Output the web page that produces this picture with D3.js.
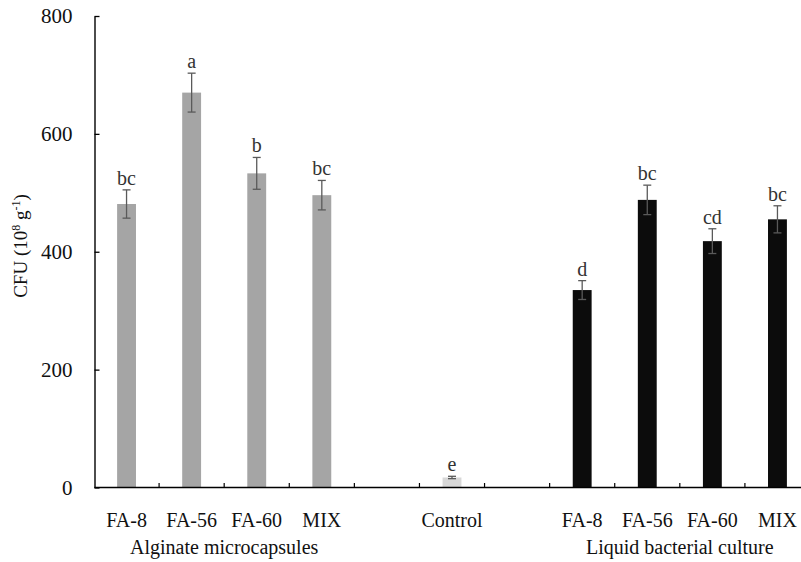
<!DOCTYPE html>
<html>
<head>
<meta charset="utf-8">
<script src="https://cdn.jsdelivr.net/npm/d3@7/dist/d3.min.js"></script>
<style>
  html, body { margin: 0; padding: 0; background: #fff; }
  svg { display: block; }
  text { font-family: "Liberation Serif", "Times New Roman", serif; fill: #111; }
</style>
</head>
<body>
<svg id="chart" width="801" height="562"></svg>
<script>
// ---- data ----
const slots = ["A1", "A2", "A3", "A4", "gap1", "C", "gap2", "L1", "L2", "L3", "L4"];
const slotLabels = ["FA-8", "FA-56", "FA-60", "MIX", "", "Control", "", "FA-8", "FA-56", "FA-60", "MIX"];

const alginateSlots = ["A1", "A2", "A3", "A4"];
const alginateValues = [481, 670, 533, 496];
const alginateErrors = [24, 33, 27, 25];
const alginateLetters = ["bc", "a", "b", "bc"];

const controlSlots = ["C"];
const controlValues = [17];
const controlErrors = [2];
const controlLetters = ["e"];

const liquidSlots = ["L1", "L2", "L3", "L4"];
const liquidValues = [335, 488, 418, 455];
const liquidErrors = [16, 25, 21, 23];
const liquidLetters = ["d", "bc", "cd", "bc"];

const groupNames = ["Alginate microcapsules", "Liquid bacterial culture"];
const groupMembers = [alginateSlots, liquidSlots];

const yTicks = [0, 200, 400, 600, 800];

// ---- layout ----
const svg = d3.select("#chart");
const x = d3.scaleBand().domain(slots).range([94, 810]).paddingInner(0.71).paddingOuter(0.355);
const y = d3.scaleLinear().domain([0, 800]).range([487.5, 16]);

const series = [
  { slots: alginateSlots, values: alginateValues, errors: alginateErrors, letters: alginateLetters, color: "#a5a5a5" },
  { slots: controlSlots, values: controlValues, errors: controlErrors, letters: controlLetters, color: "#d8d8d8" },
  { slots: liquidSlots, values: liquidValues, errors: liquidErrors, letters: liquidLetters, color: "#0c0c0c" }
];

const rows = [];
series.forEach(s => s.slots.forEach((k, i) => rows.push({ k, v: s.values[i], e: s.errors[i], l: s.letters[i], c: s.color })));

// bars
svg.append("g").selectAll("rect").data(rows).join("rect")
  .attr("x", d => x(d.k))
  .attr("width", x.bandwidth())
  .attr("y", d => y(d.v))
  .attr("height", d => y(0) - y(d.v))
  .attr("fill", d => d.c);

// error bars
const eg = svg.append("g").attr("stroke", "#5a5a5a").attr("stroke-width", 1.3).attr("fill", "none");
rows.forEach(d => {
  const cx = x(d.k) + x.bandwidth() / 2;
  eg.append("line").attr("x1", cx).attr("x2", cx).attr("y1", y(d.v + d.e)).attr("y2", y(d.v - d.e));
  eg.append("line").attr("x1", cx - 4).attr("x2", cx + 4).attr("y1", y(d.v + d.e)).attr("y2", y(d.v + d.e));
  eg.append("line").attr("x1", cx - 4).attr("x2", cx + 4).attr("y1", y(d.v - d.e)).attr("y2", y(d.v - d.e));
});

// significance letters
svg.append("g").selectAll("text").data(rows).join("text")
  .attr("x", d => x(d.k) + x.bandwidth() / 2)
  .attr("y", d => y(d.v + d.e) - 5)
  .attr("text-anchor", "middle")
  .attr("font-size", 20)
  .style("fill", "#333")
  .text(d => d.l);

// y axis
const yAxis = d3.axisLeft(y).tickValues(yTicks).tickSizeInner(-5).tickSizeOuter(0).tickPadding(22);
const gy = svg.append("g").attr("transform", "translate(94.5,0)").call(yAxis)
  .attr("font-family", "Liberation Serif, Times New Roman, serif");
gy.select(".domain").attr("stroke", "#000").attr("stroke-width", 1.4);
gy.selectAll(".tick line").attr("stroke", "#000").attr("stroke-width", 1.3);
gy.selectAll(".tick text").attr("font-size", 21).attr("fill", "#111");

// x axis
const boundaries = slots.slice(0, -1).map(k => x(k) + x.bandwidth() + (x.step() - x.bandwidth()) / 2);
const gx = svg.append("g");
gx.append("line").attr("x1", 94.5).attr("x2", 810).attr("y1", y(0)).attr("y2", y(0)).attr("stroke", "#000").attr("stroke-width", 1.4);
gx.selectAll("line.tk").data(boundaries).join("line").attr("class", "tk")
  .attr("x1", d => d).attr("x2", d => d).attr("y1", y(0)).attr("y2", y(0) - 4.5)
  .attr("stroke", "#000").attr("stroke-width", 1.2);

// category labels
svg.append("g").selectAll("text").data(slots.map((k, i) => ({ k, t: slotLabels[i] })).filter(d => d.t)).join("text")
  .attr("x", d => x(d.k) + x.bandwidth() / 2)
  .attr("y", 527)
  .attr("text-anchor", "middle")
  .attr("font-size", 20)
  .text(d => d.t);

// group labels
svg.append("g").selectAll("text").data(groupNames).join("text")
  .attr("x", (d, i) => {
    const m = groupMembers[i];
    return (x(m[0]) + x(m[m.length - 1]) + x.bandwidth()) / 2;
  })
  .attr("y", 554)
  .attr("text-anchor", "middle")
  .attr("font-size", 20)
  .text(d => d);

// y label
const yl = svg.append("text")
  .attr("transform", "translate(27,246) rotate(-90)")
  .attr("text-anchor", "middle")
  .attr("font-size", 19);
yl.append("tspan").text("CFU (10");
yl.append("tspan").attr("baseline-shift", "super").attr("font-size", 12).text("8");
yl.append("tspan").text(" g");
yl.append("tspan").attr("baseline-shift", "super").attr("font-size", 12).text("-1");
yl.append("tspan").text(")");
</script>
</body>
</html>
